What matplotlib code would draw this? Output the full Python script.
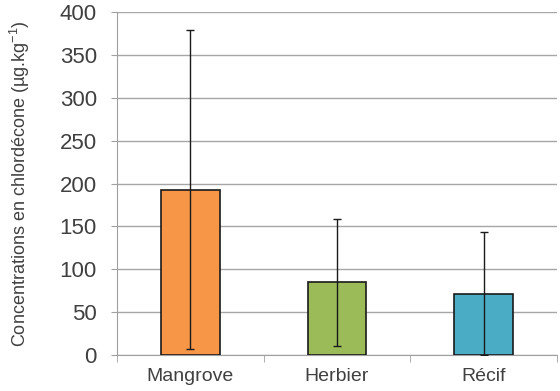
import matplotlib
matplotlib.use("Agg")
import matplotlib.pyplot as plt

categories = ["Mangrove", "Herbier", "Récif"]
values = [193, 85, 71]
err_low = [186, 74, 71]
err_high = [186, 74, 72]
colors = ["#F79646", "#9BBB59", "#4BACC6"]
yticks = [0, 50, 100, 150, 200, 250, 300, 350, 400]

plt.rcParams['font.family'] = ['Liberation Sans', 'DejaVu Sans']
plt.rcParams['mathtext.fontset'] = 'custom'
plt.rcParams['mathtext.rm'] = 'Liberation Sans'
plt.rcParams['mathtext.it'] = 'Liberation Sans'

fig = plt.figure(figsize=(5.6, 3.91), dpi=100)
ax = fig.add_axes([0.2089, 0.092, 0.7857, 0.877])

x = list(range(len(categories)))
ax.bar(x, values, width=0.4, color=colors, edgecolor="#1a1a1a", linewidth=1.2, zorder=3)
ax.errorbar(x, values, yerr=[err_low, err_high], fmt="none", ecolor="#1a1a1a",
            elinewidth=1.0, capsize=2.8, capthick=1.0, zorder=4)

ax.set_xlim(-0.5, 2.5)
ax.set_ylim(0, 400)
ax.set_yticks(yticks)
ax.set_yticklabels([str(t) for t in yticks], fontsize=16, color="#404040")
ax.set_xticks(x)
ax.set_xticklabels(categories, fontsize=14, color="#404040")
ax.set_xticks([-0.5, 0.5, 1.5, 2.5], minor=True)
ax.tick_params(axis="x", which="major", length=0, pad=9)
ax.tick_params(axis="x", which="minor", length=5, color="#A0A0A0")
ax.tick_params(axis="y", length=4.5, color="#A0A0A0", pad=10)

ax.grid(axis="y", color="#A6A6A6", linewidth=1.0, zorder=0)
for s in ["top", "right"]:
    ax.spines[s].set_visible(False)
ax.spines["left"].set_color("#A0A0A0")
ax.spines["bottom"].set_color("#A0A0A0")

ax.set_ylabel("Concentrations en chlordécone (µg.kg$^{\\mathrm{-1}}$)", fontsize=13,
              color="#404040", labelpad=20)

fig.savefig("out.png", dpi=100)
